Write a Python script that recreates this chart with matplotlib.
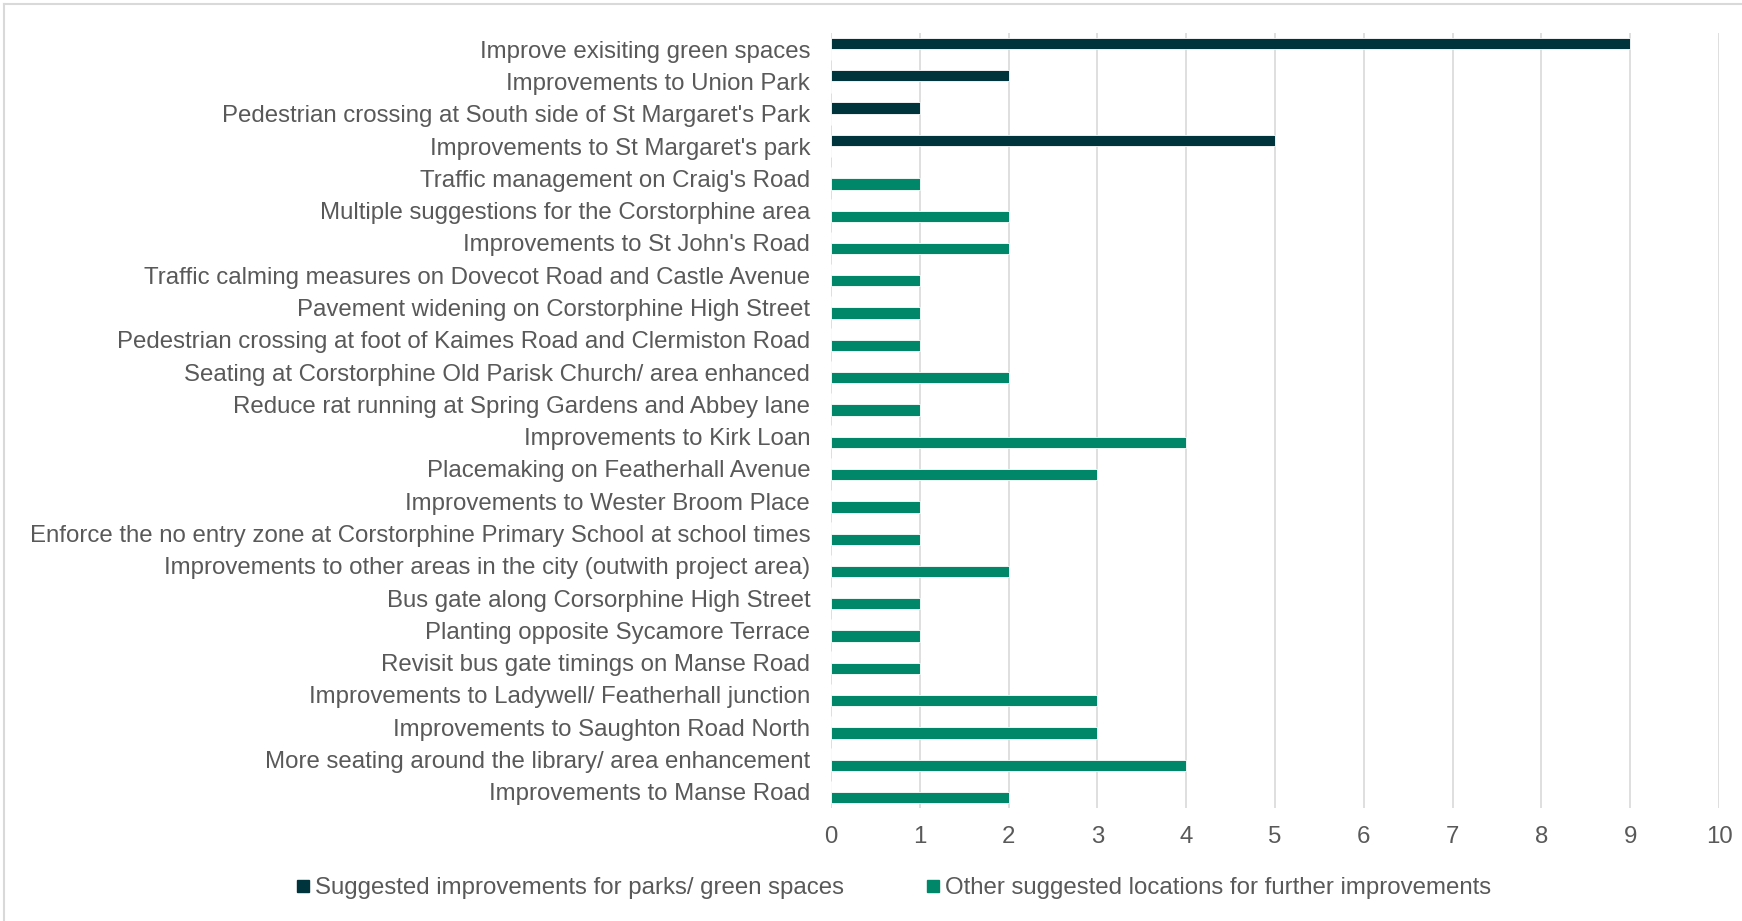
import matplotlib
matplotlib.use("Agg")
import matplotlib.pyplot as plt
from matplotlib.lines import Line2D
import numpy as np

plt.rcParams['font.family'] = ['Liberation Sans', 'DejaVu Sans']

categories = [
    "Improve exisiting green spaces",
    "Improvements to Union Park",
    "Pedestrian crossing at South side of St Margaret's Park",
    "Improvements to St Margaret's park",
    "Traffic management on Craig's Road",
    "Multiple suggestions for the Corstorphine area",
    "Improvements to St John's Road",
    "Traffic calming measures on Dovecot Road and Castle Avenue",
    "Pavement widening on Corstorphine High Street",
    "Pedestrian crossing at foot of Kaimes Road and Clermiston Road",
    "Seating at Corstorphine Old Parisk Church/ area enhanced",
    "Reduce rat running at Spring Gardens and Abbey lane",
    "Improvements to Kirk Loan",
    "Placemaking on Featherhall Avenue",
    "Improvements to Wester Broom Place",
    "Enforce the no entry zone at Corstorphine Primary School at school times",
    "Improvements to other areas in the city (outwith project area)",
    "Bus gate along Corsorphine High Street",
    "Planting opposite Sycamore Terrace",
    "Revisit bus gate timings on Manse Road",
    "Improvements to Ladywell/ Featherhall junction",
    "Improvements to Saughton Road North",
    "More seating around the library/ area enhancement",
    "Improvements to Manse Road",
]
parks = [9, 2, 1, 5, 0, 0, 0, 0, 0, 0, 0, 0, 0, 0, 0, 0, 0, 0, 0, 0, 0, 0, 0, 0]
other = [0, 0, 0, 0, 1, 2, 2, 1, 1, 1, 2, 1, 4, 3, 1, 1, 2, 1, 1, 1, 3, 3, 4, 2]
series_names = ["Suggested improvements for parks/ green spaces",
                "Other suggested locations for further improvements"]
xticks = list(range(0, 11))

dark = "#00343D"
green = "#00876A"
text_col = "#595959"
grid_col = "#D9D9D9"
fs = 17.3

W, H = 1742, 921
fig = plt.figure(figsize=(W / 100, H / 100), dpi=100)
ax = fig.add_axes([831 / W, 1 - 808 / H, (1719 - 831) / W, (808 - 33) / H])

n = len(categories)
y = np.arange(n)
bh = 0.35
ax.barh(y - bh / 2, parks, height=bh, color=dark, edgecolor="white", linewidth=0.6, zorder=3)
ax.barh(y + bh / 2, other, height=bh, color=green, edgecolor="white", linewidth=0.6, zorder=3)

ax.set_ylim(n - 0.5, -0.5)
ax.set_xlim(0, 10)
ax.set_yticks(y)
ax.set_yticklabels(categories)
ax.set_xticks(xticks)
ax.set_xticklabels([str(v) for v in xticks])
ax.tick_params(axis='y', length=0, pad=15, labelsize=fs, labelcolor=text_col)
ax.tick_params(axis='x', length=0, pad=13, labelsize=fs, labelcolor=text_col)
for s in ax.spines.values():
    s.set_visible(False)
ax.grid(axis='x', color=grid_col, linewidth=1.2, zorder=0)
ax.set_axisbelow(True)

handles = [Line2D([0], [0], marker='s', linestyle='none', markersize=9, color=dark),
           Line2D([0], [0], marker='s', linestyle='none', markersize=9, color=green)]
fig.legend(handles, series_names, loc='center', bbox_to_anchor=(0.513, 1 - 888 / H),
           ncol=2, frameon=False, fontsize=fs, labelcolor=text_col,
           handlelength=0.6, handletextpad=0.2, columnspacing=3.4)

# outer border
fig.add_artist(Line2D([4 / W, 1], [1 - 4 / H, 1 - 4 / H], transform=fig.transFigure, color=grid_col, lw=1.5))
fig.add_artist(Line2D([4 / W, 4 / W], [0, 1 - 4 / H], transform=fig.transFigure, color=grid_col, lw=1.5))

fig.savefig("out.png", dpi=100, facecolor="white")
